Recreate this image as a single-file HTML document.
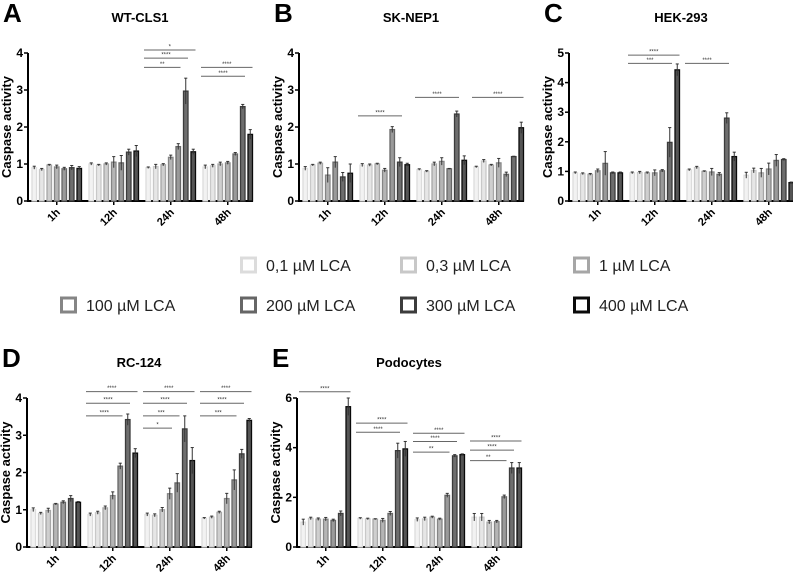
<!DOCTYPE html>
<html><head><meta charset="utf-8"><style>
html,body{margin:0;padding:0;background:#fff}
svg{display:block;font-family:"Liberation Sans",Arial,sans-serif}
</style></head><body>
<svg id="fig" width="793" height="572" viewBox="0 0 793 572"></svg>
<script>
const timepoints = ["1h","12h","24h","48h"];
const seriesLabels = ["0,1 µM LCA","0,3 µM LCA","1 µM LCA","100 µM LCA","200 µM LCA","300 µM LCA","400 µM LCA"];
const valuesA = [[.9,.85,.97,.92,.87,.9,.88],[1.0,.97,1.0,1.05,1.03,1.32,1.35],[.9,.93,.98,1.18,1.47,2.97,1.33],[.92,.95,1.0,1.03,1.27,2.55,1.8]];
const errA = [[.04,.03,.02,.05,.04,.06,.05],[.03,.02,.03,.15,.2,.08,.15],[.02,.06,.03,.06,.08,.35,.07],[.05,.04,.05,.04,.04,.06,.13]];
const valuesB = [[.88,.97,1.02,.7,1.05,.65,.75],[.97,.97,1.0,.83,1.93,1.05,.98],[.85,.8,1.0,1.07,.87,2.35,1.1],[.92,1.08,.97,1.03,.72,1.2,1.98]];
const errB = [[.05,.02,.03,.2,.15,.12,.25],[.04,.03,.02,.05,.08,.12,.04],[.02,.02,.05,.1,.01,.08,.12],[.02,.04,.02,.12,.06,.01,.15]];
const valuesC = [[.95,.92,.9,1.02,1.27,.95,.95],[.95,.96,.95,.95,1.02,1.98,4.43],[1.05,1.13,1.0,.98,.9,2.8,1.5],[.87,1.03,.95,1.08,1.37,1.4,.62]];
const errC = [[.03,.03,.03,.06,.4,.03,.03],[.03,.04,.03,.1,.04,.5,.2],[.03,.04,.02,.12,.06,.18,.15],[.1,.08,.15,.2,.2,.03,.02]];
const valuesD = [[1.0,.9,.98,1.15,1.2,1.3,1.2],[.87,.92,1.05,1.38,2.17,3.42,2.52],[.87,.85,1.0,1.43,1.72,3.17,2.32],[.77,.8,.93,1.3,1.8,2.5,3.4]];
const errD = [[.05,.03,.06,.02,.04,.08,.02],[.04,.04,.05,.1,.08,.15,.12],[.04,.04,.06,.15,.25,.35,.35],[.02,.03,.03,.14,.27,.12,.05]];
const valuesE = [[1.0,1.15,1.12,1.12,1.07,1.35,5.65],[1.15,1.13,1.12,1.07,1.35,3.88,3.95],[1.1,1.13,1.2,1.12,2.08,3.67,3.72],[1.2,1.2,1.0,1.02,2.02,3.18,3.18]];
const errE = [[.12,.05,.05,.07,.05,.1,.35],[.03,.03,.02,.08,.08,.3,.3],[.07,.07,.04,.04,.08,.05,.03],[.15,.15,.07,.05,.07,.22,.22]];
// significance: [group, toBar, level, label]
const sigA = [[2,6,4.08,"*"],[2,5,3.86,"****"],[2,4,3.61,"**"],[3,6,3.61,"****"],[3,5,3.37,"****"]];
const sigB = [[1,5,2.3,"****"],[2,5,2.8,"****"],[3,6,2.8,"****"]];
const sigC = [[1,6,4.93,"****"],[1,5,4.65,"***"],[2,5,4.65,"****"]];
const sigD = [[1,6,4.17,"****"],[1,5,3.86,"****"],[1,4,3.52,"****"],[2,6,4.17,"****"],[2,5,3.86,"****"],[2,4,3.52,"***"],[2,3,3.19,"*"],[3,6,4.17,"****"],[3,5,3.86,"****"],[3,4,3.52,"***"]];
const sigE = [[0,6,6.25,"****"],[1,6,4.99,"****"],[1,5,4.62,"****"],[2,6,4.58,"****"],[2,5,4.25,"****"],[2,4,3.82,"**"],[3,6,4.27,"****"],[3,5,3.9,"****"],[3,4,3.48,"**"]];
const ticksA = [0,1,2,3,4], ticksC=[0,1,2,3,4,5], ticksE=[0,2,4,6];

const strokes = ["#dcdcdc","#c8c8c8","#a6a6a6","#858585","#666","#3c3c3c","#0a0a0a"];
const fills = ["#f2f2f2","#e6e6e6","#cfcfcf","#b5b5b5","#9a9a9a","#6e6e6e","#555"];
const NS="http://www.w3.org/2000/svg";
const svg=document.getElementById('fig');
function mk(tag,attrs,parent,text){const e=document.createElementNS(NS,tag);for(const k in attrs)e.setAttribute(k,attrs[k]);if(text!==undefined)e.textContent=text;(parent||svg).appendChild(e);return e;}

const panels=[
 {key:"a",letter:"A",title:"WT-CLS1",ax:28,y0:201,yT:53,max:4,ticks:ticksA,vals:valuesA,err:errA,sig:sigA},
 {key:"b",letter:"B",title:"SK-NEP1",ax:299,y0:201,yT:53,max:4,ticks:ticksA,vals:valuesB,err:errB,sig:sigB},
 {key:"c",letter:"C",title:"HEK-293",ax:569,y0:201,yT:53,max:5,ticks:ticksC,vals:valuesC,err:errC,sig:sigC},
 {key:"d",letter:"D",title:"RC-124",ax:27,y0:547,yT:398,max:4,ticks:ticksA,vals:valuesD,err:errD,sig:sigD},
 {key:"e",letter:"E",title:"Podocytes",ax:297,y0:547,yT:398,max:6,ticks:ticksE,vals:valuesE,err:errE,sig:sigE}
];
panels.forEach(p=>{
 const g=mk('g',{});
 
 
 const y=v=>p.y0-(v/p.max)*(p.y0-p.yT);
 const barX=(gi,bi)=>p.ax+4+gi*57+bi*7.5;
 const L=mk('text',{x:p.ax-25,y:p.yT-31,'font-size':26,'font-weight':'bold'},g,p.letter);
 
 const T=mk('text',{x:p.ax+112,y:p.yT-31,'font-size':13,'font-weight':'bold','text-anchor':'middle'},g,p.title);
 
 const yl=mk('text',{transform:`translate(${p.ax-17},${(p.y0+p.yT)/2}) rotate(-90)`,'font-size':13,'font-weight':'bold','text-anchor':'middle'},g,"Caspase activity");
 
 mk('line',{x1:p.ax,y1:p.yT,x2:p.ax,y2:p.y0+1,stroke:'#000','stroke-width':2},g);
 mk('line',{x1:p.ax-1,y1:p.y0,x2:p.ax+225,y2:p.y0,stroke:'#000','stroke-width':2},g);
 p.ticks.forEach(t=>{
  mk('line',{x1:p.ax-4,y1:y(t),x2:p.ax,y2:y(t),stroke:'#000','stroke-width':1.5},g);
  const tl=mk('text',{x:p.ax-5,y:y(t)+4,'font-size':12,'font-weight':'bold','text-anchor':'end'},g,String(t));
  
 });
 timepoints.forEach((tp,gi)=>{
  const cx=barX(gi,3)+2.25;
  mk('line',{x1:cx,y1:p.y0,x2:cx,y2:p.y0+4,stroke:'#000','stroke-width':1.5},g);
  const xl=mk('text',{transform:`translate(${cx+4},${p.y0+12}) rotate(-45)`,'font-size':11,'font-weight':'bold','text-anchor':'end'},g,tp);
  
  p.vals[gi].forEach((v,bi)=>{
   const x=barX(gi,bi);
   const r=mk('rect',{x:x,y:y(v),width:4.5,height:p.y0-y(v),fill:fills[bi],stroke:strokes[bi],'stroke-width':1.3},g);
   
   const e=p.err[gi][bi];
   mk('line',{x1:x+2.25,y1:y(v+e),x2:x+2.25,y2:y(Math.max(0,v-e)),stroke:'#333','stroke-width':1},g);
   mk('line',{x1:x+0.7,y1:y(v+e),x2:x+3.8,y2:y(v+e),stroke:'#333','stroke-width':1},g);
  });
 });
 p.sig.forEach(s=>{
  const x1=barX(s[0],0)-2, x2=barX(s[0],s[1])+4.5, yy=y(s[2]);
  const ln=mk('line',{x1:x1,y1:yy,x2:x2,y2:yy,stroke:'#666','stroke-width':1},g);
  
  mk('text',{x:(x1+x2)/2,y:yy-1.5,'font-size':6,'text-anchor':'middle',fill:'#333'},g,s[3]);
 });
});
const legPos=[[240,265],[400,265],[573,265],[60,305],[240,305],[400,305],[573,305]];
const lg=mk('g',{});

seriesLabels.forEach((s,i)=>{
 const [x,yy]=legPos[i];
 const e=mk('g',{},lg);
 
 mk('rect',{x:x+1.5,y:yy-7,width:14,height:14,fill:'#fff',stroke:strokes[i],'stroke-width':3},e);
 mk('text',{x:x+26,y:yy+6,'font-size':16,fill:'#222'},e,s);
});
</script>
</body></html>
